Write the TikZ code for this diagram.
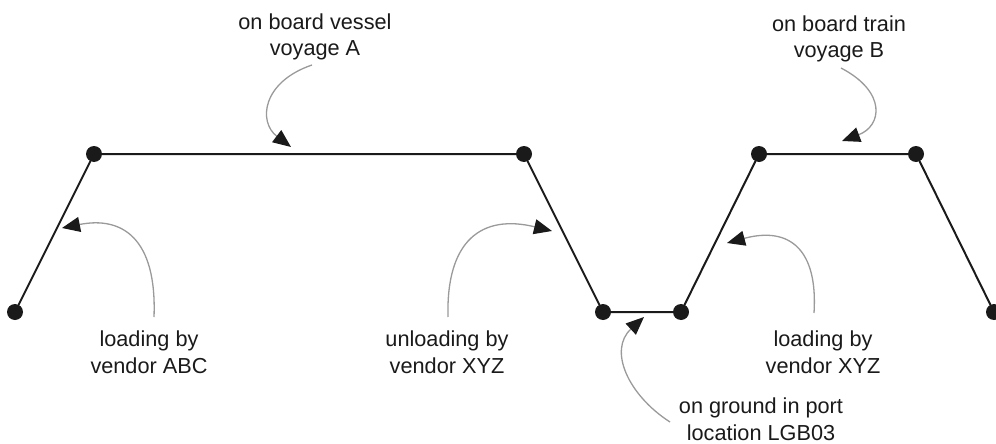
\documentclass[tikz,border=0pt]{standalone}
\usepackage{fontspec}
\setmainfont{Liberation Sans}
\usepackage{xcolor}
\usepackage{tikz}
\usetikzlibrary{arrows.meta}
\definecolor{ink}{HTML}{1A1A1A}
\definecolor{wire}{HTML}{9A9A9A}
\tikzset{
  leg/.style={draw=ink, line width=2pt, line cap=round, line join=round},
  pointer/.style={draw=wire, line width=1.3pt,
    -{Triangle[length=18pt,width=15pt,color=ink]}},
  dot/.style={circle, fill=ink, inner sep=0pt, minimum size=16pt},
  lab/.style={text=ink, align=center, inner sep=1pt,
    font=\fontsize{21.7}{26.5}\selectfont},
}
\begin{document}
\begin{tikzpicture}[x=1pt,y=-1pt]
  \useasboundingbox (0,0) rectangle (996,444);

  % stops of the journey
  \node[dot] (p1) at (15,312) {};
  \node[dot] (p2) at (94,154) {};
  \node[dot] (p3) at (524,154) {};
  \node[dot] (p4) at (603,312) {};
  \node[dot] (p5) at (681,312) {};
  \node[dot] (p6) at (759,154) {};
  \node[dot] (p7) at (916,154) {};
  \node[dot] (p8) at (994,312) {};

  \draw[leg] (p1)--(p2)--(p3)--(p4)--(p5)--(p6)--(p7)--(p8);

  % labels
  \node[lab] (lVessel) at (315,37) {on board vessel\\voyage A};
  \node[lab] (lTrain) at (839,39) {on board train\\voyage B};
  \node[lab] (lAbc) at (149,352) {loading by\\vendor ABC};
  \node[lab] (lUnload) at (447,352) {unloading by\\vendor XYZ};
  \node[lab] (lXyz) at (823,352) {loading by\\vendor XYZ};
  \node[lab] (lPort) at (761,419) {on ground in port\\location LGB03};

  % arrow ends
  \coordinate (sVessel) at (312,65);
  \coordinate (tVessel) at (291,147);
  \coordinate (sTrain) at (841,68);
  \coordinate (tTrain) at (842,141);
  \coordinate (sAbc) at (154,317);
  \coordinate (tAbc) at (62,228);
  \coordinate (sUnload) at (448,317);
  \coordinate (tUnload) at (552,231);
  \coordinate (sXyz) at (814,313);
  \coordinate (tXyz) at (727,243);
  \coordinate (sPort) at (670,422);
  \coordinate (tPort) at (644,317);

  \draw[pointer] (sVessel) .. controls (262,82) and (258,122) .. (tVessel);
  \draw[pointer] (sTrain) .. controls (887,92) and (882,126) .. (tTrain);
  \draw[pointer] (sAbc) .. controls (157,238) and (122,216) .. (tAbc);
  \draw[pointer] (sUnload) .. controls (446,240) and (482,214) .. (tUnload);
  \draw[pointer] (sXyz) .. controls (818,250) and (790,226) .. (tXyz);
  \draw[pointer] (sPort) .. controls (628,395) and (608,350) .. (tPort);
\end{tikzpicture}
\end{document}
